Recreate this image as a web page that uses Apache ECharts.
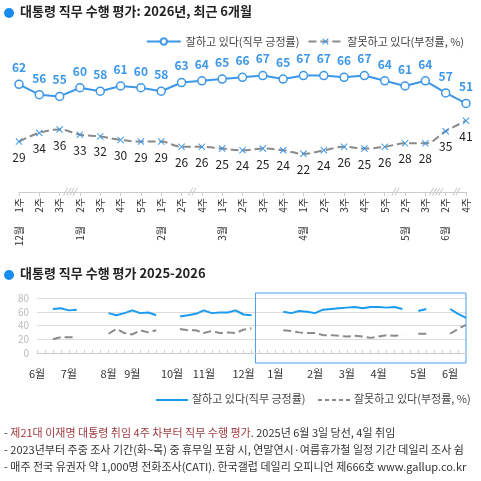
<!DOCTYPE html>
<html><head><meta charset="utf-8">
<script src="https://cdn.jsdelivr.net/npm/echarts@6/dist/echarts.min.js"></script>
<style>html,body{margin:0;padding:0;background:#fff}#c{width:481px;height:481px}</style>
</head><body><div id="c"></div>
<script>
// Top chart (recent 6 months)
const weekLabels = ['1주','2주','3주','2주','3주','4주','5주','1주','2주','4주','1주','2주','3주','4주','1주','2주','3주','4주','5주','2주','3주','2주','4주'];
const monthLabels = ['12월','','','1월','','','','2월','','','3월','','','','4월','','','','','5월','','6월',''];
const approve = [62,56,55,60,58,61,60,58,63,64,65,66,67,65,67,67,66,67,64,61,64,57,51];
const disapprove = [29,34,36,33,32,30,29,29,26,26,25,24,25,24,22,24,26,25,26,28,28,35,41];
const breaks = [[2,'////'],[8,'//'],[18,'//'],[20,'////'],[21,'//']];
// Bottom chart (2025-2026 weekly, null = no survey)
const N = null;
const weekIdx = Array.from({length:55},(_,i)=>String(i));
const monthTicks = {0:'6월',4:'7월',9:'8월',12:'9월',17:'10월',21:'11월',26:'12월',30:'1월',35:'2월',39:'3월',43:'4월',48:'5월',52:'6월'};
const approveLong = [N,N,64,65,62,63,N,N,N,58,55,58,62,58,59,55,N,N,53,55,57,62,58,59,59,62,56,55,N,N,N,60,58,61,60,58,63,64,65,66,67,65,67,67,66,67,64,N,61,64,N,N,64,57,51];
const disapproveLong = [N,N,20,23,23,23,N,N,N,28,35,29,27,33,30,33,N,N,35,33,33,29,32,29,30,29,34,36,N,N,N,33,32,30,29,29,26,26,25,24,25,24,22,24,26,25,26,N,28,28,N,N,28,35,41];

const blue='#3d97e8', gray='#8a8a8a';
const xs='path://M1,0L5,4L9,0L10,1L6,5L10,9L9,10L5,6L1,10L0,9L4,5L0,1Z';
const F='"Noto Sans CJK KR", sans-serif';
const chart = echarts.init(document.getElementById('c'));
const opt = {
  animation:false,
  textStyle:{fontFamily:F},
  grid:[{left:19,right:15,top:53,bottom:289},{left:37,right:15,top:298,bottom:128}],
  legend:{right:12,top:31,itemGap:8,itemWidth:34,itemHeight:8,textStyle:{fontSize:11,color:'#444',fontFamily:F},data:['잘하고 있다(직무 긍정률)','잘못하고 있다(부정률, %)']},
  xAxis:[
    {gridIndex:0,type:'category',data:weekLabels,boundaryGap:false,axisLine:{lineStyle:{color:'#ccc'}},axisTick:{lineStyle:{color:'#ccc'},length:4},axisLabel:{rotate:90,fontSize:10,color:'#333',margin:6}},
    {gridIndex:0,type:'category',data:monthLabels,boundaryGap:false,position:'bottom',offset:30,axisLine:{show:false},axisTick:{show:false},axisLabel:{rotate:90,fontSize:10,color:'#333',interval:0,margin:4}},
    {gridIndex:1,type:'category',data:weekIdx,boundaryGap:false,offset:9,axisLine:{lineStyle:{color:'#ccc'}},axisTick:{inside:true,length:3,interval:0,lineStyle:{color:'#ccc'}},axisLabel:{interval:0,fontSize:11,color:'#333',margin:6,formatter:(v,i)=>monthTicks[i]||''}}
  ],
  yAxis:[
    {gridIndex:0,type:'value',min:0,max:80,show:false},
    {gridIndex:1,type:'value',min:0,max:80,interval:20,axisLine:{show:false},axisTick:{show:false},axisLabel:{fontSize:10,color:'#bbb',margin:8},splitLine:{lineStyle:{color:'#ddd'}}}
  ],
  series:[
    {name:'잘하고 있다(직무 긍정률)',type:'line',xAxisIndex:0,yAxisIndex:0,data:approve,color:blue,lineStyle:{width:2,color:blue},symbol:'circle',symbolSize:8,itemStyle:{color:'#fff',borderColor:blue,borderWidth:1.5},
      label:{show:true,position:'top',distance:6,fontSize:12,fontWeight:'bold',color:blue}},
    {name:'잘못하고 있다(부정률, %)',type:'line',xAxisIndex:0,yAxisIndex:0,data:disapprove,smooth:0.4,color:blue,lineStyle:{width:2,type:'dashed',color:gray},symbol:xs,symbolSize:7,itemStyle:{color:blue},
      label:{show:true,position:'bottom',distance:6,fontSize:12,color:'#222'}},
    {type:'line',xAxisIndex:2,yAxisIndex:1,data:approveLong,lineStyle:{width:2,color:'#1a9bf0'},symbol:'none',color:'#1a9bf0'},
    {type:'line',xAxisIndex:2,yAxisIndex:1,data:disapproveLong,lineStyle:{width:2,type:'dashed',color:gray},symbol:'none',color:gray}
  ]
};
chart.setOption(opt);
const g=[
  {type:'circle',shape:{cx:9,cy:13,r:5},style:{fill:'#1a8cf0'}},
  {type:'text',x:20,y:5,style:{text:'대통령 직무 수행 평가: 2026년, 최근 6개월',font:'bold 13px '+F,fill:'#222'}},
  {type:'circle',shape:{cx:9,cy:275,r:5},style:{fill:'#1a8cf0'}},
  {type:'text',x:20,y:267,style:{text:'대통령 직무 수행 평가 2025-2026',font:'bold 13px '+F,fill:'#222'}},
  {type:'line',shape:{x1:156,y1:400,x2:188,y2:400},style:{stroke:'#1a9bf0',lineWidth:2}},
  {type:'text',x:192,y:393,style:{text:'잘하고 있다(직무 긍정률)',font:'11px '+F,fill:'#444'}},
  {type:'line',shape:{x1:318,y1:400,x2:350,y2:400},style:{stroke:gray,lineWidth:2,lineDash:[4,3]}},
  {type:'text',x:354,y:393,style:{text:'잘못하고 있다(부정률, %)',font:'11px '+F,fill:'#444'}},
  {type:'text',x:4,y:427,style:{rich:{r:{fill:'#a03a40',font:'11px '+F},k:{fill:'#333',font:'11px '+F}},text:'{k|- }{r|제21대 이재명 대통령 취임 4주 차부터 직무 수행 평가}{k|. 2025년 6월 3일 당선, 4일 취임}'}},
  {type:'text',x:4,y:444,style:{text:'- 2023년부터 주중 조사 기간(화~목) 중 휴무일 포함 시, 연말연시·여름휴가철 일정 기간 데일리 조사 쉼',font:'11px '+F,fill:'#333'}},
  {type:'text',x:4,y:461,style:{text:'- 매주 전국 유권자 약 1,000명 전화조사(CATI). 한국갤럽 데일리 오피니언 제666호 www.gallup.co.kr',font:'11px '+F,fill:'#333'}}
];
breaks.forEach(([i,t])=>{
  const a=chart.convertToPixel({xAxisIndex:0},i), b=chart.convertToPixel({xAxisIndex:0},i+1);
  g.push({type:'text',x:(a+b)/2,y:187,style:{text:t,font:'italic 8px '+F,fill:'#999',align:'center'}});
});
const x0=(chart.convertToPixel({xAxisIndex:2},27)+chart.convertToPixel({xAxisIndex:2},28))/2;
g.push({type:'rect',shape:{x:x0,y:293,width:466-x0,height:70},style:{fill:'none',stroke:'#4a9ee8',lineWidth:1}});
chart.setOption({graphic:g});
</script></body></html>
